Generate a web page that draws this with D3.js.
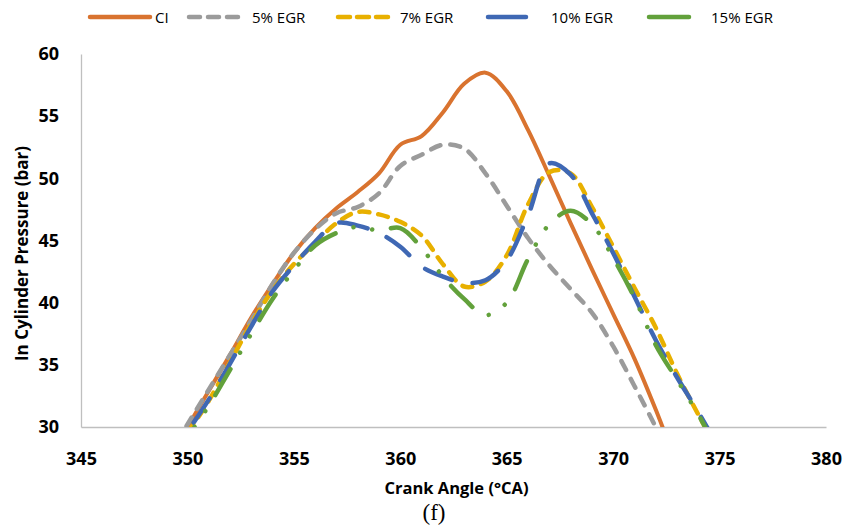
<!DOCTYPE html>
<html><head><meta charset="utf-8">
<script src="https://cdn.jsdelivr.net/npm/d3@7"></script>
<style>body{margin:0;background:#fff}svg{display:block}</style>
</head><body>
<svg id="chart" width="845" height="526"></svg>
<script>
const crankAngle = [349,350,351,352,353,354,355,356,357,358,359,360,361,362,363,364,365,366,367,368,369,370,371,372,373,374,375];
const ci     = [27.2,30.0,32.9,35.8,38.8,41.5,44.0,46.0,47.6,48.9,50.4,52.7,53.4,55.3,57.6,58.5,57.0,53.9,50.2,46.4,42.7,39.1,35.5,31.4,27.0,23.0,19.0];
const egr5   = [27.3,30.2,33.0,35.8,38.6,41.5,44.0,45.9,47.2,47.7,48.8,51.0,51.9,52.7,52.4,50.4,47.8,45.2,43.0,41.1,39.2,36.5,33.3,30.0,26.5,23.0,19.5];
const egr7   = [27.0,29.5,32.1,35.2,38.3,41.0,43.1,44.8,46.4,47.3,47.1,46.5,45.4,43.1,41.3,41.7,43.8,47.9,50.5,50.4,47.7,44.5,41.2,38.0,34.3,31.0,27.9];
const egr10  = [27.0,29.6,32.2,35.1,38.1,40.9,43.0,44.9,46.4,46.2,45.6,44.5,42.9,42.1,41.6,41.8,43.4,47.0,51.2,50.3,47.2,44.0,40.5,37.0,34.0,31.2,28.2];
const egr15  = [26.8,29.2,31.7,34.6,37.5,40.3,42.6,44.6,45.6,46.1,45.8,46.0,44.4,42.1,40.3,39.0,40.0,43.5,46.3,47.4,46.3,43.6,40.4,36.6,33.8,31.0,27.8];
const seriesNames = ["CI","5% EGR","7% EGR","10% EGR","15% EGR"];
const xTicks = [345,350,355,360,365,370,375,380];
const yTicks = [30,35,40,45,50,55,60];

const styles = [
  {color:"#D9732F", width:4,   dash:null,                 legendDash:null,      lx:90,  lw:60, tx:155},
  {color:"#9B9B9B", width:4.5, dash:"10,10",              legendDash:"11,8",    lx:189, lw:56, tx:252},
  {color:"#E8B000", width:4.5, dash:"10,9",               legendDash:"12,7",    lx:338, lw:56, tx:400},
  {color:"#3F68B4", width:4.5, dash:"29,21",              legendDash:null,      lx:488, lw:38, tx:551},
  {color:"#62A13B", width:4.5, dash:"30,19,0.01,19,0.01,19", legendDash:null,   lx:649, lw:40, tx:711}
];
const seriesValues = [ci, egr5, egr7, egr10, egr15];

const svg = d3.select("#chart");
const x = d3.scaleLinear().domain([345,380]).range([81,826]);
const y = d3.scaleLinear().domain([30,60]).range([427,54]);

svg.append("defs").append("clipPath").attr("id","plotclip")
  .append("rect").attr("x",x(345)).attr("y",y(60)-5).attr("width",x(380)-x(345)).attr("height",y(30)-y(60)+5);

// axes
const xAxis = svg.append("g").attr("transform",`translate(0,${y(30)})`)
  .call(d3.axisBottom(x).tickValues(xTicks).tickSize(0).tickPadding(25).tickFormat(d3.format("d")));
xAxis.select(".domain").attr("stroke","#BFBFBF").attr("stroke-width",1.3);
xAxis.selectAll("text").attr("font-family","'Open Sans',sans-serif").attr("font-weight","700").attr("font-size","18px").attr("fill","#000");

const yAxis = svg.append("g").attr("transform",`translate(${x(345)},0)`)
  .call(d3.axisLeft(y).tickValues(yTicks).tickSize(0).tickPadding(22).tickFormat(d3.format("d")));
yAxis.select(".domain").attr("stroke","#BFBFBF").attr("stroke-width",1.3);
yAxis.selectAll("text").attr("font-family","'Open Sans',sans-serif").attr("font-weight","700").attr("font-size","18px").attr("fill","#000");

// lines
const line = d3.line().curve(d3.curveCatmullRom.alpha(0.5)).x(d=>x(d[0])).y(d=>y(d[1]));
const plot = svg.append("g").attr("clip-path","url(#plotclip)");
seriesValues.forEach((vals,i)=>{
  const pts = crankAngle.map((c,j)=>[c,vals[j]]);
  const s = styles[i];
  plot.append("path").attr("d",line(pts)).attr("fill","none")
    .attr("stroke",s.color).attr("stroke-width",s.width)
    .attr("stroke-linecap","round").attr("stroke-linejoin","round")
    .attr("stroke-dasharray",s.dash);
});

// axis titles
svg.append("text").attr("x",(x(345)+x(380))/2+3).attr("y",494).attr("text-anchor","middle")
  .attr("font-family","'Open Sans',sans-serif").attr("font-weight","700").attr("font-size","16.5px").text("Crank Angle (°CA)");
svg.append("text").attr("transform",`translate(28,${(y(30)+y(60))/2+13}) rotate(-90)`).attr("text-anchor","middle")
  .attr("font-family","'Open Sans',sans-serif").attr("font-weight","700").attr("font-size","17px").text("In Cylinder Pressure (bar)");
svg.append("text").attr("x",434).attr("y",520).attr("text-anchor","middle")
  .attr("font-family","'Liberation Serif','Times New Roman',serif").attr("font-size","23px").text("(f)");

// legend
const leg = svg.append("g");
seriesNames.forEach((n,i)=>{
  const s = styles[i];
  leg.append("line").attr("x1",s.lx).attr("x2",s.lx+s.lw).attr("y1",17).attr("y2",17)
    .attr("stroke",s.color).attr("stroke-width",4.5).attr("stroke-linecap","round")
    .attr("stroke-dasharray",s.legendDash);
  leg.append("text").attr("x",s.tx).attr("y",23).attr("font-family","'Open Sans',sans-serif")
    .attr("font-size","15px").attr("fill","#000").text(n);
});
</script>
</body></html>
